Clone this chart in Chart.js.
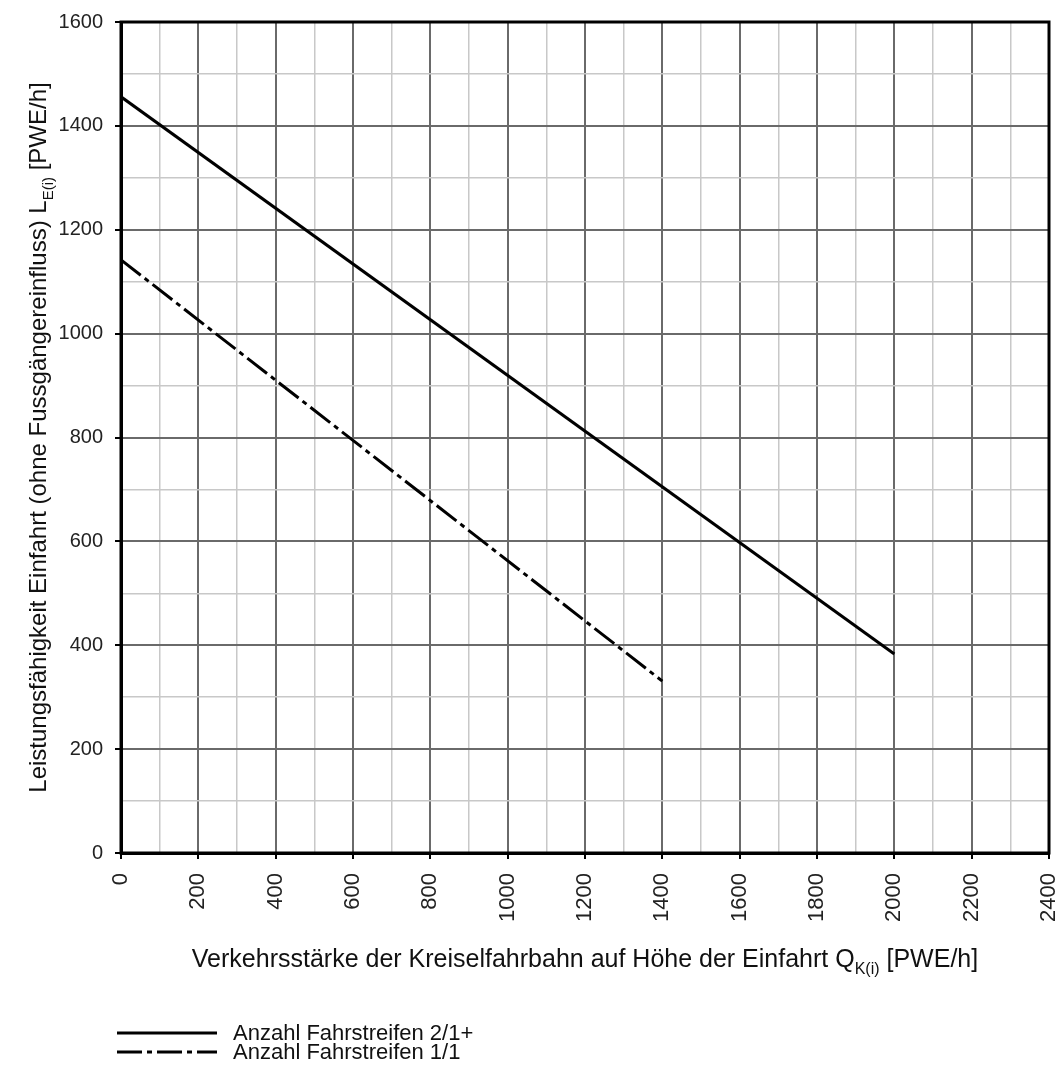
<!DOCTYPE html>
<html>
<head>
<meta charset="utf-8">
<script src="https://cdn.jsdelivr.net/npm/chart.js@4.4.1/dist/chart.umd.min.js"></script>
<style>
  html, body { margin: 0; padding: 0; background: #fff; }
  #wrap { width: 1059px; height: 1066px; position: relative; }
</style>
</head>
<body>
<div id="wrap"><canvas id="capacityChart"></canvas></div>
<script>
// values (circulating flow -> entry capacity)
const flow21 = [0, 2000];
const capacity21 = [1456, 383];
const flow11 = [0, 1400];
const capacity11 = [1142, 331];
const seriesLabels = ['Anzahl Fahrstreifen 2/1+', 'Anzahl Fahrstreifen 1/1'];

const FONT = "'Liberation Sans', Arial, Helvetica, sans-serif";

function toPoints(xs, ys) {
  return xs.map((x, i) => ({ x: x, y: ys[i] }));
}

function majorGrid(ctx) {
  return ctx.tick && ctx.tick.value % 200 === 0;
}

// text with a subscript part, drawn from x (left) on baseline y
function drawSubText(ctx, parts, x, y, size) {
  parts.forEach(p => {
    ctx.font = (p.sub ? Math.round(size * 0.62) : size) + 'px ' + FONT;
    ctx.fillText(p.t, x, y + (p.sub ? size * 0.28 : 0));
    x += ctx.measureText(p.t).width;
  });
}
function measureSubText(ctx, parts, size) {
  let w = 0;
  parts.forEach(p => {
    ctx.font = (p.sub ? Math.round(size * 0.62) : size) + 'px ' + FONT;
    w += ctx.measureText(p.t).width;
  });
  return w;
}

const framePlugin = {
  id: 'frame',
  afterDraw(chart) {
    const ctx = chart.ctx;
    const a = chart.chartArea;
    ctx.save();
    ctx.strokeStyle = '#000';
    ctx.lineWidth = 3;
    ctx.strokeRect(a.left, a.top, a.right - a.left, a.bottom - a.top);

    ctx.fillStyle = '#111';
    ctx.textBaseline = 'alphabetic';
    ctx.textAlign = 'left';

    // x axis title
    const xParts = [
      { t: 'Verkehrsstärke der Kreiselfahrbahn auf Höhe der Einfahrt Q' },
      { t: 'K(i)', sub: true },
      { t: ' [PWE/h]' }
    ];
    const xw = measureSubText(ctx, xParts, 25);
    drawSubText(ctx, xParts, (a.left + a.right) / 2 - xw / 2, 967, 25);

    // y axis title
    const yParts = [
      { t: 'Leistungsfähigkeit Einfahrt (ohne Fussgängereinfluss) L' },
      { t: 'E(i)', sub: true },
      { t: ' [PWE/h]' }
    ];
    const yw = measureSubText(ctx, yParts, 24);
    ctx.save();
    ctx.translate(46, (a.top + a.bottom) / 2);
    ctx.rotate(-Math.PI / 2);
    drawSubText(ctx, yParts, -yw / 2, 0, 24);
    ctx.restore();

    // legend
    chart.data.datasets.forEach((ds, i) => {
      const y = 1033 + i * 19;
      ctx.save();
      ctx.strokeStyle = ds.borderColor;
      ctx.lineWidth = 3;
      ctx.setLineDash(ds.borderDash || []);
      ctx.beginPath();
      ctx.moveTo(117, y);
      ctx.lineTo(217, y);
      ctx.stroke();
      ctx.restore();
      ctx.font = '22px ' + FONT;
      ctx.textBaseline = 'middle';
      ctx.fillText(ds.label, 233, y + 1);
    });
    ctx.restore();
  }
};

new Chart(document.getElementById('capacityChart'), {
  type: 'line',
  data: {
    datasets: [
      {
        label: seriesLabels[0],
        data: toPoints(flow21, capacity21),
        borderColor: '#000',
        borderWidth: 3,
        pointRadius: 0,
        fill: false
      },
      {
        label: seriesLabels[1],
        data: toPoints(flow11, capacity11),
        borderColor: '#000',
        borderWidth: 3,
        borderDash: [25, 5, 5, 5],
        pointRadius: 0,
        fill: false
      }
    ]
  },
  options: {
    responsive: true,
    maintainAspectRatio: false,
    animation: false,
    layout: { padding: { left: 0, top: 22, right: 10, bottom: 143 } },
    plugins: {
      legend: { display: false },
      tooltip: { enabled: false }
    },
    scales: {
      x: {
        type: 'linear',
        min: 0,
        max: 2400,
        afterFit(scale) {
          scale.height = 70;
          scale.paddingLeft = 0;
          scale.paddingRight = 0;
        },
        border: { color: '#000', width: 3 },
        grid: {
          color: c => majorGrid(c) ? '#6a6a6a' : '#c8c8c8',
          lineWidth: c => majorGrid(c) ? 2 : 1.5,
          tickLength: 6,
          tickColor: c => majorGrid(c) ? '#000' : 'rgba(0,0,0,0)',
          tickWidth: 2
        },
        ticks: {
          stepSize: 100,
          autoSkip: false,
          minRotation: 90,
          maxRotation: 90,
          padding: 14,
          color: '#222',
          font: { family: FONT, size: 22 },
          callback: v => v % 200 === 0 ? String(v) : ''
        }
      },
      y: {
        min: 0,
        max: 1600,
        afterFit(scale) {
          scale.width = 121;
          scale.paddingTop = 0;
          scale.paddingBottom = 0;
        },
        border: { color: '#000', width: 3 },
        grid: {
          color: c => majorGrid(c) ? '#6a6a6a' : '#c8c8c8',
          lineWidth: c => majorGrid(c) ? 2 : 1.5,
          tickLength: 6,
          tickColor: c => majorGrid(c) ? '#000' : 'rgba(0,0,0,0)',
          tickWidth: 2
        },
        ticks: {
          stepSize: 100,
          autoSkip: false,
          padding: 12,
          color: '#222',
          font: { family: FONT, size: 20 },
          callback: v => v % 200 === 0 ? String(v) : ''
        }
      }
    }
  },
  plugins: [framePlugin]
});
</script>
</body>
</html>
